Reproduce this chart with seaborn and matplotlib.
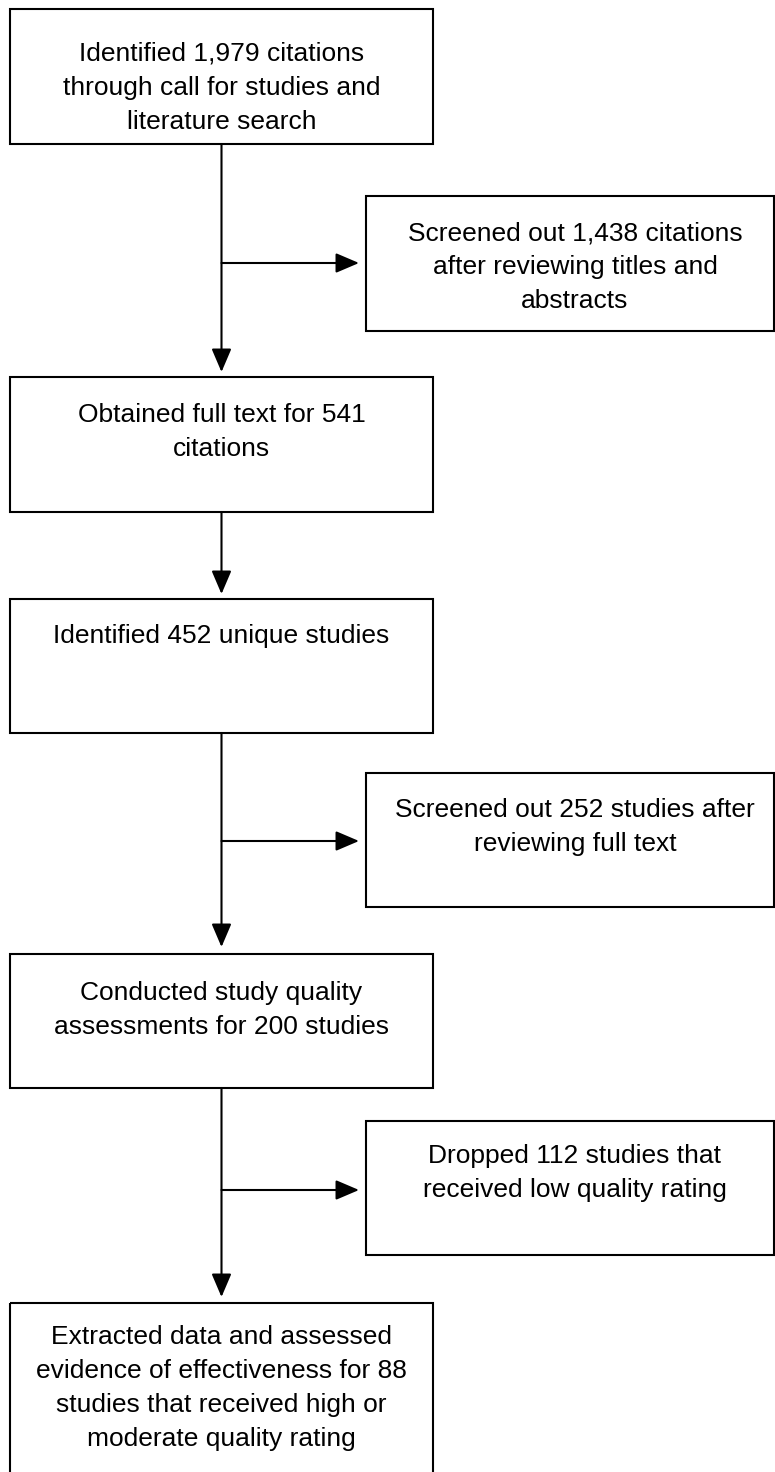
import matplotlib
matplotlib.use("Agg")
import matplotlib.pyplot as plt
import seaborn as sns
from matplotlib.patches import Rectangle

sns.set_style("white")
plt.rcParams["font.family"] = ["Liberation Sans", "DejaVu Sans"]

# ---- data ----
counts = [1979, 1438, 541, 452, 252, 200, 112, 88]
box_lines = [
    ["Identified 1,979 citations", "through call for studies and", "literature search"],
    ["Screened out 1,438 citations", "after reviewing titles and", "abstracts"],
    ["Obtained full text for 541", "citations"],
    ["Identified 452 unique studies"],
    ["Screened out 252 studies after", "reviewing full text"],
    ["Conducted study quality", "assessments for 200 studies"],
    ["Dropped 112 studies that", "received low quality rating"],
    ["Extracted data and assessed", "evidence of effectiveness for 88",
     "studies that received high or", "moderate quality rating"],
]
box_side = ["main", "side", "main", "main", "side", "main", "side", "main"]

# ---- layout (pixel space) ----
W, H = 775, 1472
fig = plt.figure(figsize=(W / 100, H / 100), dpi=100)
ax = fig.add_axes([0, 0, 1, 1])
ax.set_xlim(0, W)
ax.set_ylim(H, 0)
ax.axis("off")

main_x = (10, 433)
side_x = (366, 774)
main_text_cx = 221.5
side_text_cx = 575
tops = [9, 196, 377, 599, 773, 954, 1121, 1303]
bottoms = [144, 331, 512, 733, 907, 1088, 1255, 1480]
baseline_offset = [52, 44, 45, 44, 44, 46, 42, 41]
LW = 1.5
FS = 19
STEP = 34  # px between baselines

for i, lines in enumerate(box_lines):
    side = box_side[i] == "main"
    x0, x1 = main_x if side else side_x
    tx = main_text_cx if side else side_text_cx
    y0, y1 = tops[i], bottoms[i]
    ax.add_patch(Rectangle((x0, y0), x1 - x0, y1 - y0, fill=False,
                           edgecolor="black", linewidth=LW, clip_on=False))
    for k, line in enumerate(lines):
        ax.text(tx, y0 + baseline_offset[i] + k * STEP, line,
                ha="center", va="baseline", fontsize=FS, color="black")

cx = (main_x[0] + main_x[1]) / 2
arrow = dict(arrowstyle="-|>,head_length=0.75,head_width=0.32", color="black",
             lw=LW, shrinkA=0, shrinkB=0, mutation_scale=19)

def down_arrow(y_from, y_to):
    ax.annotate("", xy=(cx, y_to), xytext=(cx, y_from), arrowprops=arrow)

def side_arrow(y):
    ax.annotate("", xy=(side_x[0] - 7, y), xytext=(cx, y), arrowprops=arrow)

down_arrow(bottoms[0], tops[2] - 5)
side_arrow(263)
down_arrow(bottoms[2], tops[3] - 5)
down_arrow(bottoms[3], tops[5] - 7)
side_arrow(841)
down_arrow(bottoms[5], tops[7] - 6)
side_arrow(1190)

fig.savefig("out.png", dpi=100, facecolor="white")
